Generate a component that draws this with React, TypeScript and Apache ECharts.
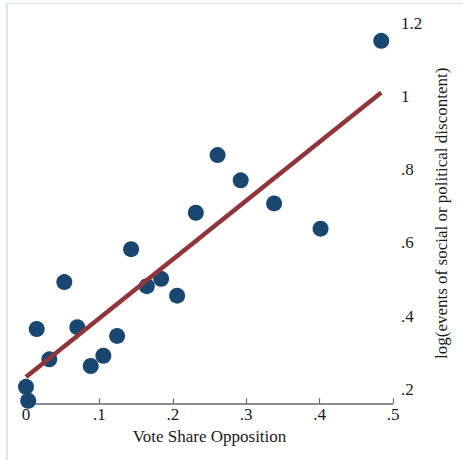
import React, { useEffect, useRef } from "react";
import * as echarts from "echarts";

const voteShare = [0.484, 0.261, 0.2925, 0.338, 0.2314, 0.4013, 0.1432, 0.0522, 0.1841, 0.1646, 0.2059, 0.0146, 0.0699, 0.1241, 0.0318, 0.1054, 0.0882, 0.0, 0.003];
const logEvents = [1.152, 0.84, 0.771, 0.708, 0.6825, 0.639, 0.583, 0.493, 0.502, 0.482, 0.456, 0.365, 0.37, 0.346, 0.282, 0.292, 0.264, 0.207, 0.169];
const fitX = [0, 0.484];
const fitY = [0.234, 1.011];
const yTicks = [0.2, 0.4, 0.6, 0.8, 1.0, 1.2];

const FONT = "'Liberation Serif', 'Times New Roman', serif";

const fmt = (v: number) => {
  const s = String(Math.round(v * 10) / 10);
  return s.startsWith("0.") ? s.slice(1) : s;
};

export default function App() {
  const ref = useRef<HTMLDivElement>(null);
  useEffect(() => {
    if (!ref.current) return;
    const chart = echarts.init(ref.current, undefined, { renderer: "svg" });
    chart.setOption({
      animation: false,
      backgroundColor: "#ffffff",
      grid: { left: 26, right: 70, top: 23.3, bottom: 56.7, containLabel: false },
      xAxis: {
        type: "value",
        min: 0,
        max: 0.5,
        interval: 0.1,
        name: "Vote Share Opposition",
        nameLocation: "middle",
        nameGap: 20,
        nameTextStyle: { fontFamily: FONT, fontSize: 17, color: "#1a1a1a" },
        axisLine: { show: true, lineStyle: { color: "#666", width: 1.5 } },
        axisTick: { show: true, inside: true, length: 5, lineStyle: { color: "#666", width: 1.2 } },
        axisLabel: { fontFamily: FONT, fontSize: 17, color: "#1a1a1a", margin: 3, formatter: (v: number) => fmt(v) },
        splitLine: { show: false },
      },
      yAxis: {
        type: "value",
        position: "right",
        min: 0.162,
        max: 1.2,
        name: "log(events of social or political discontent)",
        nameLocation: "middle",
        nameRotate: 90,
        nameGap: 37,
        nameTextStyle: { fontFamily: FONT, fontSize: 17, color: "#1a1a1a" },
        axisLine: { show: false },
        axisTick: { show: false },
        axisLabel: {
          fontFamily: FONT,
          fontSize: 17,
          color: "#1a1a1a",
          margin: 8,
          customValues: yTicks,
          formatter: (v: number) => fmt(v),
        },
        splitLine: { show: false },
      },
      series: [
        {
          type: "scatter",
          data: voteShare.map((x, i) => [x, logEvents[i]]),
          symbol: "circle",
          symbolSize: 16,
          itemStyle: { color: "#1a476f", opacity: 1 },
          clip: false,
          z: 2,
        },
        {
          type: "line",
          data: fitX.map((x, i) => [x, fitY[i]]),
          showSymbol: false,
          symbol: "none",
          lineStyle: { color: "#90353b", width: 4.5 },
          clip: false,
          z: 3,
        },
      ],
      graphic: [
        { type: "line", shape: { x1: 7, y1: 3, x2: 7, y2: 460 }, style: { stroke: "#dfe5ee", lineWidth: 2 } },
        { type: "line", shape: { x1: 7, y1: 3.5, x2: 463, y2: 3.5 }, style: { stroke: "#dfe5ee", lineWidth: 1.5 } },
      ],
    });
    return () => chart.dispose();
  }, []);
  return <div ref={ref} style={{ position: "fixed", left: 0, top: 0, width: 463, height: 460 }} />;
}
